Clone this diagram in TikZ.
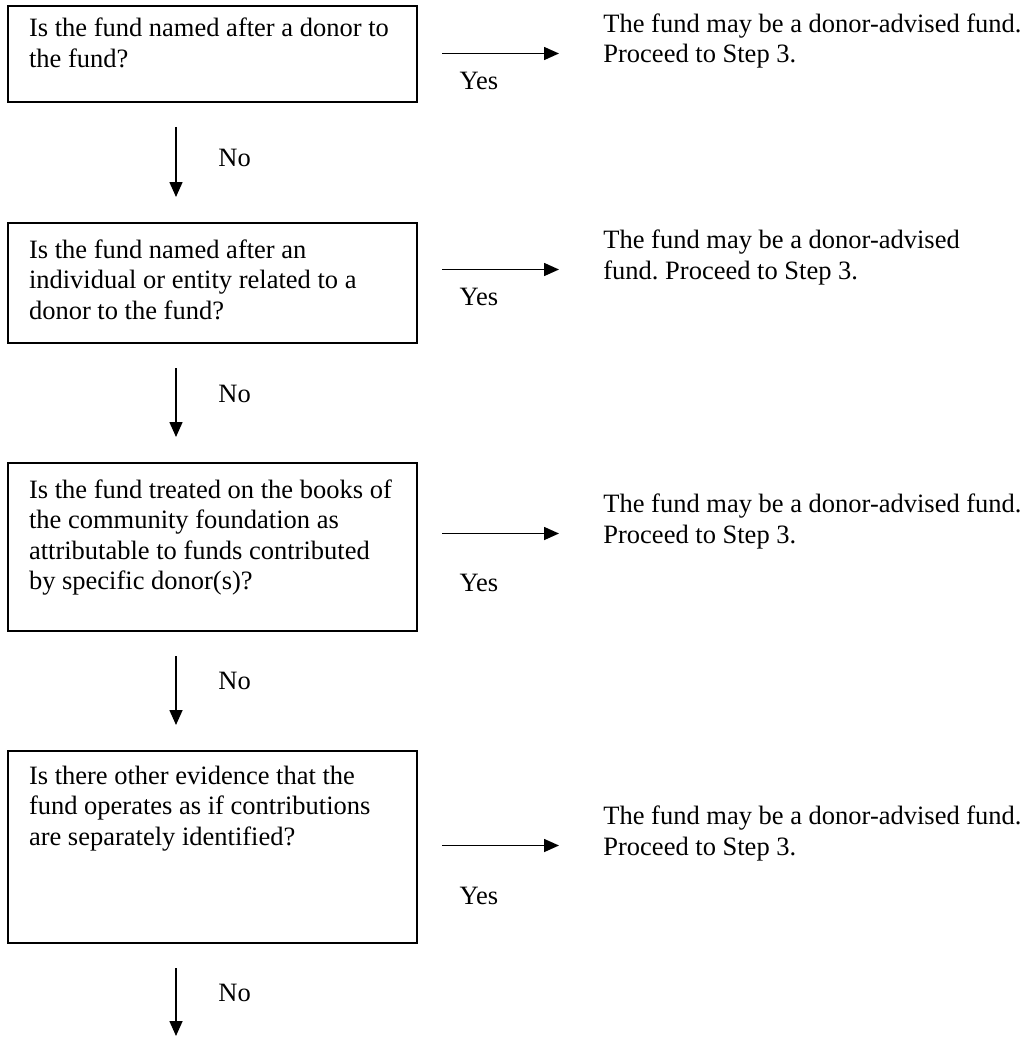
\documentclass[tikz,border=0pt]{standalone}
\usepackage{fontspec}
\setmainfont{Liberation Serif}
\usetikzlibrary{arrows.meta,calc}
\frenchspacing
\tikzset{
  qbox/.style={draw, line width=1pt, anchor=north west, text width=183.5pt, align=flush left, inner xsep=10.5pt, inner ysep=0pt},
  result/.style={anchor=base west, align=left, inner sep=0pt},
  lbl/.style={inner sep=0pt},
  arr/.style={line width=0.8pt, -{Triangle[length=7.5pt,width=6.5pt]}}
}
\begin{document}
\begin{tikzpicture}[x=0.5pt, y=-0.5pt, font=\fontsize{13.25}{15.25}\selectfont]
    \useasboundingbox (0,0) rectangle (1026,1038);
    % questions
    \node[qbox, text height=15.5pt, text depth=32.5pt] (q1) at (7,5) {Is the fund named after a donor to\\the fund?};
    \node[qbox, text height=17.5pt, text depth=42.5pt] (q2) at (7,222) {Is the fund named after an\\individual or entity related to a\\donor to the fund?};
    \node[qbox, text height=17.5pt, text depth=66.5pt] (q3) at (7,462) {Is the fund treated on the books of\\the community foundation as\\attributable to funds contributed\\by specific donor(s)?};
    \node[qbox, text height=16.5pt, text depth=79.5pt] (q4) at (7,750) {Is there other evidence that the\\fund operates as if contributions\\are separately identified?};
    % answers
    \node[result] (r1) at (603,63) {The fund may be a donor-advised fund.\\Proceed to Step 3.};
    \node[result] (r2) at (603,279) {The fund may be a donor-advised\\fund. Proceed to Step 3.};
    \node[result] (r3) at (603,543) {The fund may be a donor-advised fund.\\Proceed to Step 3.};
    \node[result] (r4) at (603,855) {The fund may be a donor-advised fund.\\Proceed to Step 3.};
    % yes
    \draw[arr] ($(q1.east |- r1.base)+(24,-9.5)$) -- ($(r1.base west)+(-44,-9.5)$);
    \draw[arr] ($(q2.east |- r2.base)+(24,-9.5)$) -- ($(r2.base west)+(-44,-9.5)$);
    \draw[arr] ($(q3.east |- r3.base)+(24,-9.5)$) -- ($(r3.base west)+(-44,-9.5)$);
    \draw[arr] ($(q4.east |- r4.base)+(24,-9.5)$) -- ($(r4.base west)+(-44,-9.5)$);
    \node[lbl, anchor=base] (y1) at (479,90) {Yes};
    \node[lbl, anchor=base] (y2) at (479,305) {Yes};
    \node[lbl, anchor=base] (y3) at (479,591) {Yes};
    \node[lbl, anchor=base] (y4) at (479,904) {Yes};
    % no
    \coordinate (end) at (176,1036);
    \draw[arr] ($(q1.south west)+(169,24)$) -- ($(q2.north west)+(169,-25)$);
    \draw[arr] ($(q2.south west)+(169,24)$) -- ($(q3.north west)+(169,-25)$);
    \draw[arr] ($(q3.south west)+(169,24)$) -- ($(q4.north west)+(169,-25)$);
    \draw[arr] ($(q4.south west)+(169,24)$) -- (end);
    \node[lbl, anchor=base west] (n1) at (218,166) {No};
    \node[lbl, anchor=base west] (n2) at (218,402) {No};
    \node[lbl, anchor=base west] (n3) at (218,689) {No};
    \node[lbl, anchor=base west] (n4) at (218,1001) {No};
\end{tikzpicture}
\end{document}
